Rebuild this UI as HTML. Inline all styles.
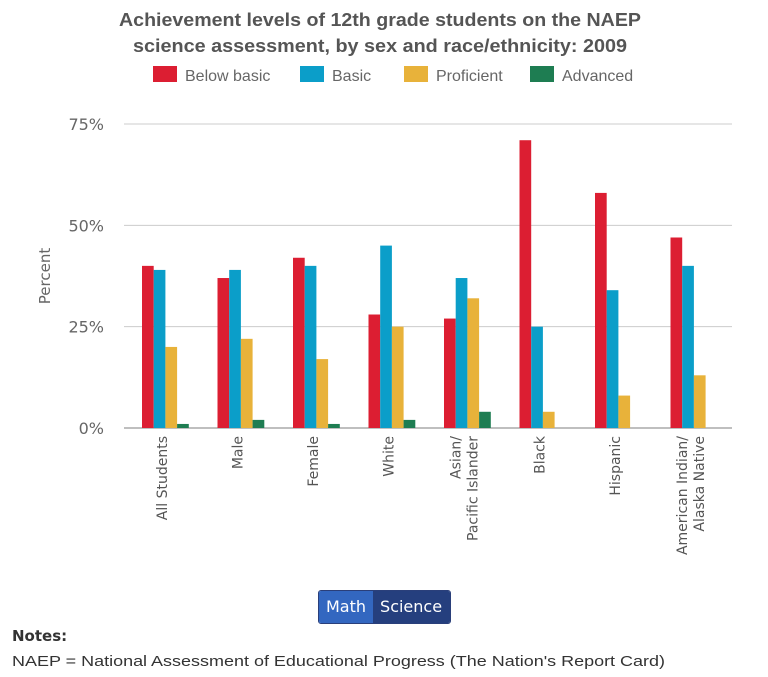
<!DOCTYPE html>
<html><head><meta charset="utf-8"><style>
body{margin:0;background:#fff;width:768px;height:677px;overflow:hidden;font-family:"Liberation Sans",sans-serif;}
</style></head><body>
<svg width="768" height="677" style="position:absolute;left:0;top:0">
<text x="380" y="26" text-anchor="middle" font-size="18" font-weight="bold" fill="#555" textLength="522" lengthAdjust="spacingAndGlyphs">Achievement levels of 12th grade students on the NAEP</text>
<text x="380" y="52" text-anchor="middle" font-size="18" font-weight="bold" fill="#555" textLength="494" lengthAdjust="spacingAndGlyphs">science assessment, by sex and race/ethnicity: 2009</text>
<g id="legend"></g>
<g id="grid"></g>
<g id="bars"></g>
<g id="xlabels"></g>
<text transform="translate(50,276) rotate(-90)" text-anchor="middle" font-size="15" fill="#666" font-family="DejaVu Sans">Percent</text>
<text x="12" y="641" font-size="15" font-weight="bold" fill="#333" font-family="DejaVu Sans">Notes:</text>
<text x="12" y="666" font-size="15" fill="#333" textLength="653" lengthAdjust="spacingAndGlyphs">NAEP = National Assessment of Educational Progress (The Nation's Report Card)</text>
</svg>
<div style="position:absolute;left:318px;top:590px;height:32px;display:flex;border:1px solid #2a3f7a;border-radius:3px;overflow:hidden;font-size:16px;font-family:'DejaVu Sans',sans-serif;color:#fff">
<div style="background:#3367c0;padding:0 7px;line-height:32px">Math</div>
<div style="background:#253f7e;padding:0 8px 0 7px;line-height:32px">Science</div>
</div>
<script>
const categories=[["All Students"],["Male"],["Female"],["White"],["Asian/","Pacific Islander"],["Black"],["Hispanic"],["American Indian/","Alaska Native"]];
const seriesNames=["Below basic","Basic","Proficient","Advanced"];
const belowBasic=[40,37,42,28,27,71,58,47];
const basic=[39,39,40,45,37,25,34,40];
const proficient=[20,22,17,25,32,4,8,13];
const advanced=[1,2,1,2,4,0,0,0];
const yTicks=[0,25,50,75];
const colors=["#dc1e32","#0b9ec9","#e8b23a","#1e7d52"];
const series=[belowBasic,basic,proficient,advanced];
const NS="http://www.w3.org/2000/svg";
const y0=428,pxPer=(428-124)/75,x0=124,x1=732,band=75.5,off=18,bw=11.7;
const yS=v=>y0-v*pxPer;
function mk(t,a,p){const e=document.createElementNS(NS,t);for(const k in a)e.setAttribute(k,a[k]);p.appendChild(e);return e;}
const grid=document.getElementById('grid');
yTicks.forEach(t=>{
 const l=mk('line',{x1:x0,x2:x1,y1:yS(t),y2:yS(t),stroke:t===0?'#aaa':'#ccc','stroke-width':t===0?1.5:1},grid);
 
 
 const tx=mk('text',{x:104,y:yS(t)+6,'text-anchor':'end','font-size':16,fill:'#666','font-family':'DejaVu Sans'},grid);
 tx.textContent=t+'%';
 
 
});
const bars=document.getElementById('bars');
series.forEach((s,si)=>s.forEach((v,ci)=>{
 const r=mk('rect',{x:x0+off+ci*band+si*bw,y:yS(v),width:bw,height:v*pxPer,fill:colors[si]},bars);
 
 
}));
const xl=document.getElementById('xlabels');
categories.forEach((c,ci)=>{
 const cx=x0+ci*band+band/2;
 const g=mk('text',{transform:`translate(${cx},436) rotate(-90)`,'text-anchor':'end','font-size':14,fill:'#555','font-family':'DejaVu Sans'},xl);
 
 
 const n=c.length;
 c.forEach((line,li)=>{const ts=mk('tspan',{x:0,y:5+(li-(n-1)/2)*17},g);ts.textContent=line;});
});
const leg=document.getElementById('legend');
const lx=[153,300,404,530];
seriesNames.forEach((n,i)=>{
 const r=mk('rect',{x:lx[i],y:66,width:24,height:16,fill:colors[i]},leg);
 
 
 const t=mk('text',{x:lx[i]+32,y:81,'font-size':16,fill:'#666'},leg);
 t.textContent=n;
 
 
});
</script>
</body></html>
